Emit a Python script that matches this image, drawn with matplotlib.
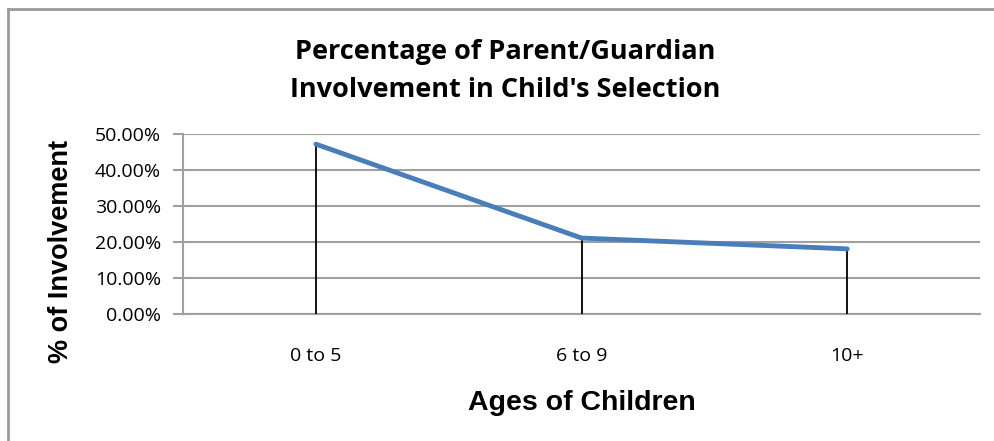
import matplotlib.pyplot as plt
from matplotlib.lines import Line2D

# Data
ages = ['0 to 5', '6 to 9', '10+']
involvement = [0.472, 0.211, 0.181]
yticks = [0.0, 0.1, 0.2, 0.3, 0.4, 0.5]

fig = plt.figure(figsize=(9.95, 4.41), dpi=100)
ax = fig.add_axes([0.184, 0.288, 0.801, 0.408])

x = [i + 0.5 for i in range(len(ages))]

# vertical drop lines from axis to each point
ax.vlines(x, 0, involvement, colors='black', linewidth=1.3, zorder=3)
ax.plot(x, involvement, color='#4A7EBB', linewidth=3.5, solid_capstyle='round', zorder=4)

ax.set_xlim(0, 3)
ax.set_ylim(0, 0.5)
ax.set_yticks(yticks)
ax.set_yticklabels(['%.2f%%' % (v * 100) for v in yticks],
                   fontsize=14, family='Open Sans')
ax.set_xticks(x)
ax.set_xticklabels(ages, fontsize=14, family='Open Sans')
ax.tick_params(axis='x', length=0, pad=24)
ax.tick_params(axis='y', length=7, width=1.5, color='#a0a0a0', pad=9)
ax.grid(axis='y', color='#a0a0a0', linewidth=1.5)
ax.set_axisbelow(True)

for s in ['top', 'right']:
    ax.spines[s].set_visible(False)
for s in ['left', 'bottom']:
    ax.spines[s].set_color('#a0a0a0')
    ax.spines[s].set_linewidth(1.5)

ax.set_xlabel('Ages of Children', fontsize=20.5, fontweight='bold',
              family='Liberation Sans', labelpad=18)
ax.set_ylabel('% of Involvement', fontsize=19.5, fontweight='bold',
              family='Liberation Sans')
ax.yaxis.set_label_coords(-0.137, 0.35)

fig.text(0.508, 0.838, "Percentage of Parent/Guardian\nInvolvement in Child's Selection",
         ha='center', va='center', fontsize=19.5, fontweight='bold',
         family='Open Sans', linespacing=1.6)

# chart area border (top and left edges)
fig.add_artist(Line2D([0.008, 0.008], [0, 0.98], transform=fig.transFigure,
                      color='#9a9a9a', linewidth=2))
fig.add_artist(Line2D([0.008, 1.0], [0.98, 0.98], transform=fig.transFigure,
                      color='#9a9a9a', linewidth=2))

fig.savefig('out.png', dpi=100)
